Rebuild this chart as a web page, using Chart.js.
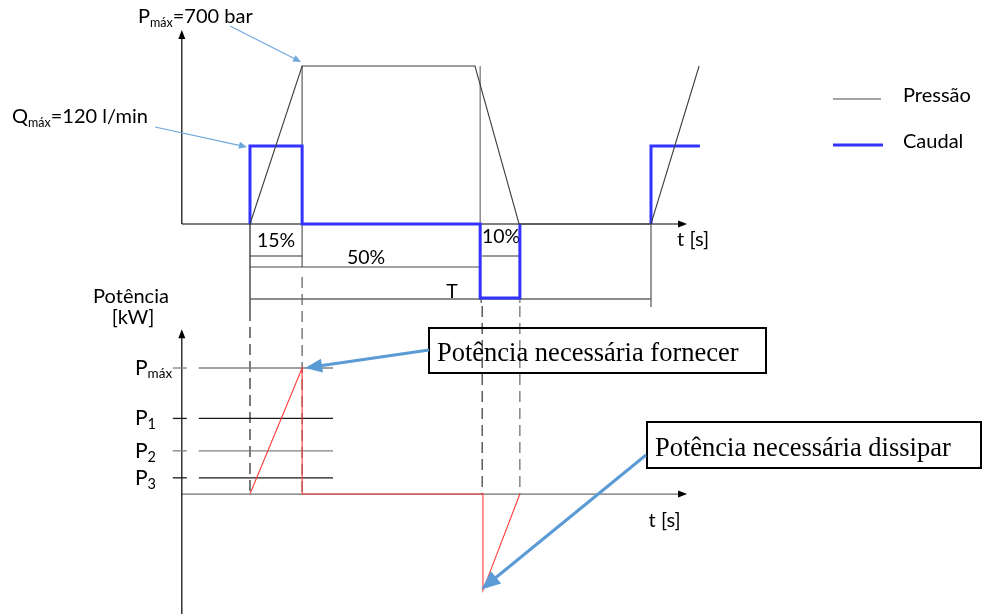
<!DOCTYPE html>
<html>
<head>
<meta charset="utf-8">
<script src="https://cdn.jsdelivr.net/npm/chart.js@4.4.0/dist/chart.umd.min.js"></script>
<style>
  html, body { margin: 0; padding: 0; background: #fff; }
  canvas { display: block; }
</style>
</head>
<body>
<canvas id="cycleChart" width="983" height="614"></canvas>
<script>
// time in % of the cycle period T, as it is drawn (the sketch is not to scale)
var pressureTime = [0, 13, 56.1, 67.1, 100, 112];
var pressureBar = [0, 700, 700, 0, 0, 700];

var flowTime = [0, 0, 13, 13, 57.4, 57.4, 67.3, 67.3, 80, 100, 100, 112.2];
var flowLmin = [0, 120, 120, 0, 0, -114, -114, 0, null, 0, 120, 120];

var powerTime = [0, 13, 13, 58.1, 58.1, 67.3];
var powerKW = [0, 140, 0, 0, -107, 0];

var levelSubs = ['máx', '1', '2', '3'];
var levelKW = [140, 84, 48, 18];

// phase boundaries: start, end of 15%, end of 50%, end of 10%, T
var phaseTime = [0, 13, 57.4, 67.3, 100];

var SANS = 'Lato, "Open Sans", sans-serif';
var SERIF = '"Liberation Serif", "Times New Roman", serif';

function toPoints(xs, ys) {
    let pts = [];
    for (let i = 0; i < xs.length; i++) {
        pts.push({x: xs[i], y: ys[i]});
    }
    return pts;
}

function line(ctx, x1, y1, x2, y2, color, width, dash) {
    ctx.save();
    ctx.strokeStyle = color;
    ctx.lineWidth = width;
    ctx.setLineDash(dash || []);
    ctx.beginPath();
    ctx.moveTo(x1, y1);
    ctx.lineTo(x2, y2);
    ctx.stroke();
    ctx.restore();
}

function arrow(ctx, x1, y1, x2, y2, color, width, head, half) {
    let a = Math.atan2(y2 - y1, x2 - x1);
    let c = Math.cos(a), s = Math.sin(a);
    ctx.save();
    ctx.strokeStyle = color;
    ctx.fillStyle = color;
    ctx.lineWidth = width;
    ctx.beginPath();
    ctx.moveTo(x1, y1);
    ctx.lineTo(x2 - c * head * 0.7, y2 - s * head * 0.7);
    ctx.stroke();
    ctx.beginPath();
    ctx.moveTo(x2, y2);
    ctx.lineTo(x2 - c * head + s * half, y2 - s * head - c * half);
    ctx.lineTo(x2 - c * head - s * half, y2 - s * head + c * half);
    ctx.closePath();
    ctx.fill();
    ctx.restore();
}

function text(ctx, str, x, y, size, align, font) {
    ctx.font = size + 'px ' + (font || SANS);
    ctx.textAlign = align || 'left';
    ctx.textBaseline = 'alphabetic';
    ctx.fillText(str, x, y);
    return ctx.measureText(str).width;
}

// main text with a subscript, returns x after the subscript
function subText(ctx, main, sub, x, y, size, subSize, drop) {
    let w = text(ctx, main, x, y, size);
    let w2 = text(ctx, sub, x + w, y + drop, subSize);
    return x + w + w2;
}

var drawing = {
    id: 'drawing',
    beforeDatasetsDraw(chart) {
        const ctx = chart.ctx;
        const sc = chart.scales;
        const X = v => sc.x.getPixelForValue(v);
        const YP = v => sc.yP.getPixelForValue(v);
        const YW = v => sc.yW.getPixelForValue(v);

        const ax = X(-17), axEnd = X(109);
        const y0 = YP(0), w0 = YW(0);
        ctx.fillStyle = '#000';

        // top axes
        line(ctx, ax, y0, axEnd - 6, y0, '#000', 1);
        arrow(ctx, axEnd - 8, y0, axEnd, y0, '#000', 1, 9, 3.5);
        line(ctx, ax, y0, ax, YP(860) + 6, '#000', 1.2);
        arrow(ctx, ax, YP(860) + 8, ax, YP(860), '#000', 1, 9, 3.5);
        ctx.fillStyle = '#000';
        text(ctx, 't [s]', axEnd - 10, y0 + 22, 20);

        // bottom axes
        line(ctx, ax, w0, axEnd - 6, w0, '#6f6f6f', 1.2);
        arrow(ctx, axEnd - 8, w0, axEnd, w0, '#000', 1, 9, 3.5);
        line(ctx, ax, YW(-140), ax, YW(183) + 6, '#000', 1.2);
        arrow(ctx, ax, YW(183) + 8, ax, YW(183), '#000', 1, 9, 3.5);
        ctx.fillStyle = '#000';
        text(ctx, 't [s]', X(99.4), w0 + 33, 20);
        text(ctx, 'Potência', 131, 303, 20, 'center');
        text(ctx, '[kW]', 133, 324, 20, 'center');

        // extension lines of the phases
        const t0 = X(phaseTime[0]), t1 = X(phaseTime[1]), t2 = X(phaseTime[2]);
        const t3 = X(phaseTime[3]), tT = X(phaseTime[4]);
        const dash = [11, 6];
        line(ctx, t0, y0, t0, y0 + 86, '#222', 1.2);
        line(ctx, t0, y0 + 86, t0, w0, '#222', 1.2, dash);
        line(ctx, t1, YP(700), t1, y0 + 43, '#7a7a7a', 1.5);
        line(ctx, t1, y0 + 53, t1, w0, '#7a7a7a', 1.5, dash);
        line(ctx, t2, YP(700), t2, y0, '#7a7a7a', 1.3);
        line(ctx, t2 + 1, y0 + 74, t2 + 1, y0 + 79, '#444', 1.2);
        line(ctx, t2 + 2, y0 + 82, t2 + 2, w0, '#333', 1.2, dash);
        line(ctx, t3, y0 + 74, t3, y0 + 79, '#666', 1.2);
        line(ctx, t3, y0 + 82, t3, w0, '#666', 1.2, dash);
        line(ctx, tT, y0, tT, y0 + 83, '#777', 1.5);

        // dimension lines
        line(ctx, t0, y0 + 32, t1, y0 + 32, '#333', 1);
        line(ctx, t0, y0 + 43, t2, y0 + 43, '#444', 1);
        line(ctx, t2 + 2, y0 + 32, t3, y0 + 32, '#333', 1);
        line(ctx, t0, y0 + 75, tT, y0 + 75, '#666', 1.3);
        ctx.fillStyle = '#000';
        text(ctx, '15%', (t0 + t1) / 2, y0 + 23, 19.5, 'center');
        text(ctx, '50%', 366, y0 + 40, 19.5, 'center');
        text(ctx, '10%', (t2 + t3) / 2 + 1, y0 + 19, 19.5, 'center');
        text(ctx, 'T', 452, y0 + 74, 19.5, 'center');

        // power levels on the bottom axis
        for (let i = 0; i < levelKW.length; i++) {
            let y = YW(levelKW[i]);
            let col = i % 2 === 0 ? '#7f7f7f' : '#1a1a1a';
            line(ctx, ax - 9, y, ax + 5, y, col, 1.3);
            line(ctx, ax + 17, y, X(20.7), y, col, 1.3);
            ctx.fillStyle = '#000';
            if (i === 0) {
                subText(ctx, 'P', levelSubs[i], 135, y + 7, 21, 13.5, 3);
            } else {
                subText(ctx, 'P', levelSubs[i], 135, y + 7, 21, 14.5, 4);
            }
        }
    },
    afterDatasetsDraw(chart) {
        const ctx = chart.ctx;
        const sc = chart.scales;
        const X = v => sc.x.getPixelForValue(v);
        const YP = v => sc.yP.getPixelForValue(v);
        const YQ = v => sc.yQ.getPixelForValue(v);
        const YW = v => sc.yW.getPixelForValue(v);

        // top labels with thin arrows
        ctx.fillStyle = '#000';
        let e = subText(ctx, 'P', 'máx', 138, 23, 20, 12.5, 4);
        text(ctx, '=700 bar', e, 23, 20);
        e = subText(ctx, 'Q', 'máx', 12, 123, 20, 12.5, 4);
        text(ctx, '=120 l/min', e, 123, 20);
        arrow(ctx, 230, 26, X(13) - 1, YP(700) - 4, '#6fa8dc', 1.2, 8, 3.5);
        arrow(ctx, 155, 127, X(0) - 3, YQ(120) + 1, '#6fa8dc', 1.2, 8, 3.5);

        // legend
        line(ctx, 833, 99, 881, 99, '#4d4d4d', 1.2);
        line(ctx, 833, 145, 883, 145, '#3333ff', 3);
        ctx.fillStyle = '#000';
        text(ctx, 'Pressão', 903, 102, 20);
        text(ctx, 'Caudal', 903, 148, 20);

        // callout boxes
        ctx.save();
        ctx.strokeStyle = '#000';
        ctx.lineWidth = 2;
        ctx.strokeRect(429, 328, 337, 45);
        ctx.strokeRect(647, 422, 334, 46);
        ctx.restore();
        ctx.fillStyle = '#000';
        text(ctx, 'Potência necessária fornecer', 437, 361, 26.5, 'left', SERIF);
        text(ctx, 'Potência necessária dissipar', 655, 456, 26.5, 'left', SERIF);

        arrow(ctx, 429, 350, X(13) + 3, YW(140), '#5b9bd5', 3, 17, 7);
        arrow(ctx, 646, 455, X(57.7), YW(-106), '#5b9bd5', 3, 19, 8);
    }
};

var ctx = document.getElementById('cycleChart');
var cycleChart = new Chart(ctx, {
    type: 'line',
    data: {
        datasets: [{
            label: 'Pressão',
            data: toPoints(pressureTime, pressureBar),
            yAxisID: 'yP',
            borderColor: '#3c3c3c',
            borderWidth: 1.1
        }, {
            label: 'Caudal',
            data: toPoints(flowTime, flowLmin),
            yAxisID: 'yQ',
            borderColor: '#3333ff',
            borderWidth: 3,
            spanGaps: false
        }, {
            label: 'Potência',
            data: toPoints(powerTime, powerKW),
            yAxisID: 'yW',
            borderColor: '#ff3b3b',
            borderWidth: 1.1
        }]
    },
    options: {
        responsive: false,
        animation: false,
        layout: {padding: 0},
        elements: {
            point: {radius: 0},
            line: {tension: 0, borderJoinStyle: 'miter', fill: false}
        },
        scales: {
            x: {type: 'linear', display: false, min: -62.34, max: 182.79},
            yP: {type: 'linear', display: false, min: -1727.8, max: 992.4},
            yQ: {type: 'linear', display: false, min: -600, max: 344.6},
            yW: {type: 'linear', display: false, min: -133.3, max: 548.9}
        },
        plugins: {
            legend: {display: false},
            tooltip: {enabled: false}
        }
    },
    plugins: [drawing]
});
</script>
</body>
</html>
